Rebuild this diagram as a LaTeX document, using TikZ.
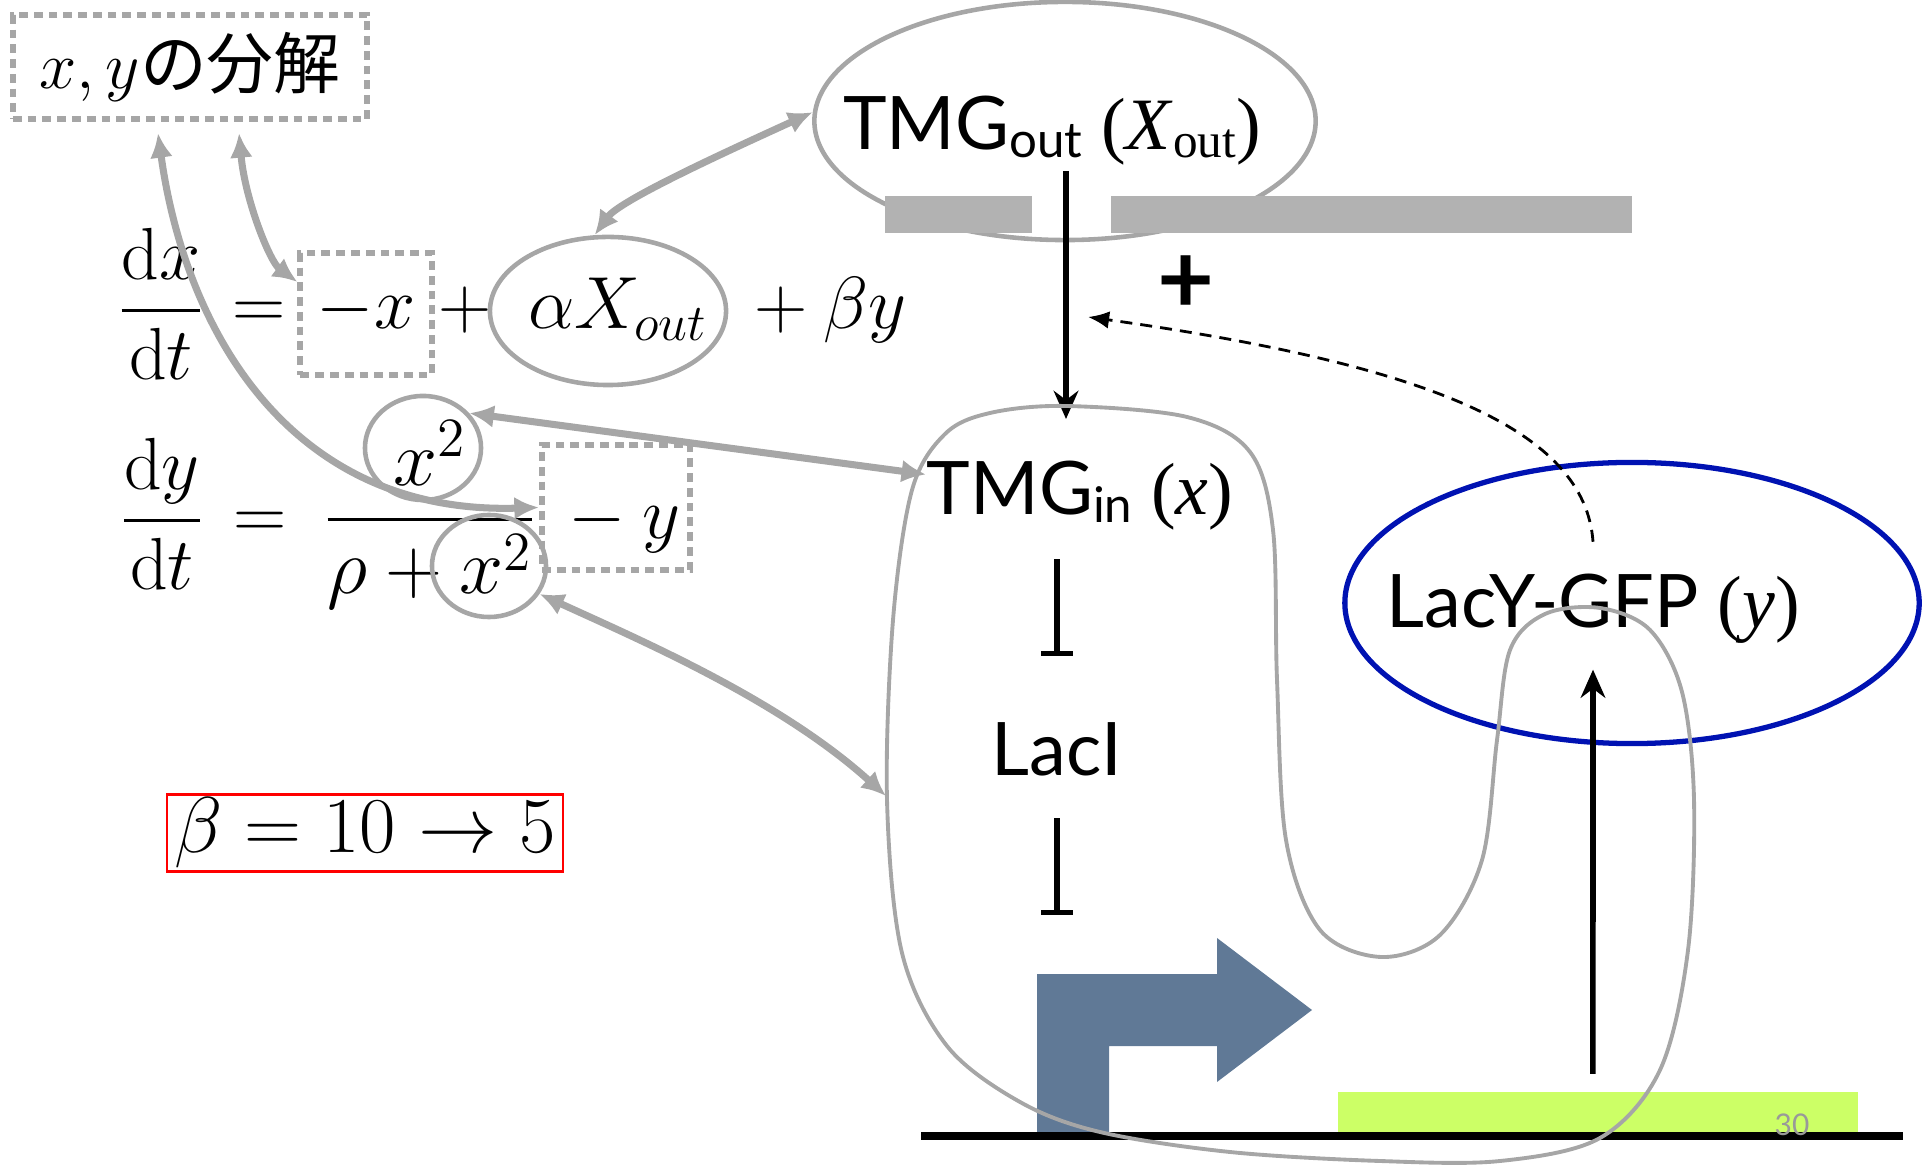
\RequirePackage{fix-cm}
\documentclass[tikz,border=0pt]{standalone}
\usepackage{amsmath, amssymb}
\usepackage{fontspec}
\usepackage{xcolor}
\usepackage{tikz}
\usetikzlibrary{shapes.geometric, arrows.meta, positioning}

\newfontfamily\gill{Lato}
\newfontfamily\tnr{Liberation Serif}
\newfontfamily\jpfont{Noto Sans CJK JP}

\definecolor{linkgray}{RGB}{166,166,166}
\definecolor{wallgray}{RGB}{178,178,178}
\definecolor{promblue}{RGB}{96,121,150}
\definecolor{genegreen}{RGB}{204,255,102}
\definecolor{lacblue}{RGB}{0,18,178}

\newcommand{\lowsub}[1]{\raisebox{-0.1em}{\fontsize{14pt}{14pt}\selectfont #1}}
\newcommand{\eqsize}{\fontsize{21pt}{25pt}\selectfont}
\newcommand{\labsize}{\gill\fontsize{21pt}{25pt}\selectfont}

\tikzset{
  link/.style={draw=linkgray, line width=2pt, >={Latex[length=7pt,width=6.5pt]}, <->},
  dotbox/.style={draw=linkgray, line width=1.7pt, dash pattern=on 2.5pt off 1.7pt, inner sep=0pt},
  ring/.style={ellipse, draw=linkgray, line width=1.3pt, inner sep=0pt},
  lbl/.style={inner sep=0pt, font=\labsize},
  eqpart/.style={inner sep=0pt, anchor=base, font=\eqsize},
  act/.style={draw=black, line width=1.6pt, -{Stealth[length=8pt,width=7pt]}},
  inhib/.style={draw=black, line width=1.5pt, -{Bar[width=9pt]}},
}

\begin{document}
\begin{tikzpicture}[x=0.01cm, y=-0.01cm]
  \useasboundingbox (0,0) rectangle (1928,1165);

  % Decomposition label
  \node[dotbox, minimum width=3.54cm, minimum height=1.04cm, font=\fontsize{19pt}{22pt}\selectfont] (xylbl) at (190,67) {$x,y$\jpfont の分解};

  % dx/dt
  \node[eqpart] (dxdt) at (161,329) {$\displaystyle\frac{\mathrm{d}x}{\mathrm{d}t}$};
  \node[eqpart] (eqa) at (259,329) {$=$};
  \node[dotbox, anchor=base, font=\eqsize, minimum width=1.31cm, text height=0.76cm, text depth=0.46cm] (negx) at (366,329) {$-x$};
  \node[eqpart] (plusa) at (465,329) {$+$};
  \node[ring, minimum width=2.36cm, minimum height=1.48cm] (axout) at (608,311) {};
  \node[eqpart] (axterm) at (618,329) {$\alpha X_{out}$};
  \node[eqpart, anchor=base west] (byterm) at (737,329) {${}+\beta y$};

  % dy/dt
  \node[eqpart] (dydt) at (162,539) {$\displaystyle\frac{\mathrm{d}y}{\mathrm{d}t}$};
  \node[eqpart] (eqb) at (260,539) {$=$};
  \node[eqpart, font=\fontsize{22.5pt}{26pt}\selectfont] (hill) at (430,539) {$\displaystyle\frac{x^2}{\rho+x^2}$};
  \node[dotbox, anchor=base, font=\eqsize, minimum width=1.48cm, text height=0.94cm, text depth=0.31cm] (negy) at (616,539) {${}-y$};
  \node[ring, minimum width=1.16cm, minimum height=1.04cm] (xnum) at (423,448) {};
  \node[ring, minimum width=1.14cm, minimum height=1.02cm] (xden) at (489,566) {};

  % Parameter change
  \node[draw=red, line width=0.7pt, inner sep=0pt, minimum width=3.96cm, minimum height=0.77cm, font=\fontsize{22.5pt}{26pt}\selectfont] (betabox) at (365,833) {$\beta=10\to5$};

  % Outside TMG and membrane
  \node[ring, minimum width=5.01cm, minimum height=2.38cm] (tmgout) at (1065,121) {};
  \fill[wallgray] (885,196) rectangle (1032,233);
  \fill[wallgray] (1111,196) rectangle (1632,233);
  \node[lbl, anchor=base] (tmgoutlbl) at (1052,150) {TMG\lowsub{out} {\tnr(\textit{X}\lowsub{out})}};
  \node[inner sep=0pt, font=\gill\bfseries\fontsize{28pt}{30pt}\selectfont] (plus) at (1186,285) {+};

  % Inside the cell
  \node[lbl, anchor=base] (tmginlbl) at (1080,515) {TMG\lowsub{in} {\tnr(\textit{x})}};
  \node[lbl, anchor=base] (laci) at (1057,776) {LacI};
  \node[ellipse, draw=lacblue, line width=1.5pt, minimum width=5.74cm, minimum height=2.81cm] (lacy) at (1632,603) {};
  \node[lbl, anchor=base] (lacylbl) at (1593,628) {LacY-GFP {\tnr(\textit{y})}};

  % Promoter, gene and DNA
  \fill[promblue] (1037,1133) -- (1037,974) -- (1217,974) -- (1217,938) -- (1312,1010) -- (1217,1082) -- (1217,1046) -- (1109,1046) -- (1109,1133) -- cycle;
  \node[fill=genegreen, inner sep=0pt, minimum width=5.2cm, minimum height=0.42cm, anchor=north west] (gene) at (1337,1091) {};
  \draw[line width=2.3pt] (921,1136) -- (1903,1136);
  \node[inner sep=0pt, text=gray!80, font=\gill\fontsize{8.5pt}{10pt}\selectfont] (pagenum) at (1792,1125) {30};

  % Regulation
  \coordinate (pore) at (1066,171);
  \coordinate (inlet) at (1066,419);
  \coordinate (feed) at (1088,317);
  \draw[act] (pore) -- (inlet);
  \draw[inhib] ([yshift=1.63cm]laci.north) -- ([yshift=0.66cm]laci.north);
  \draw[inhib] ([yshift=-0.41cm]laci.south) -- ([yshift=-1.38cm]laci.south);
  \draw[act] ([xshift=-0.05cm,yshift=0.17cm]gene.north) -- ([yshift=-0.25cm]lacylbl.south);
  \draw[line width=0.8pt, dash pattern=on 3.4pt off 2.3pt, -{Latex[length=6pt,width=5pt]}] ([yshift=0.32cm]lacylbl.north) .. controls (1585,430) and (1430,365) .. (feed);

  % Cell outline
  \coordinate (cellleft) at (886,796);
  \draw[linkgray, line width=1.1pt] plot[smooth cycle, tension=0.55] coordinates {
    (1066,406) (1187,417) (1250,452) (1273,530) (1277,680) (1286,840) (1320,930) (1381,957)
    (1440,935) (1482,860) (1497,740) (1510,650) (1545,614) (1600,608) (1650,630) (1682,692)
    (1694,800) (1688,950) (1660,1070) (1600,1138) (1500,1161) (1380,1161) (1230,1152) (1100,1132)
    (1020,1102) (947,1046) (902,953) (887,800) (893,620) (912,490) (945,434) (990,413)};

  % Links between terms and species
  \draw[link] ([xshift=-0.32cm,yshift=-0.11cm]xylbl.south) .. controls (185,330) and (290,515) .. (negy.west);
  \draw[link] ([xshift=0.49cm,yshift=-0.11cm]xylbl.south) .. controls (245,200) and (270,262) .. (negx.155);
  \draw[link] (axout.100) .. controls (620,200) and (730,150) .. (tmgout.178);
  \draw[link] (xnum.37) -- (tmginlbl.172);
  \draw[link] (xden.-29) .. controls (640,640) and (780,700) .. (cellleft);
\end{tikzpicture}
\end{document}
